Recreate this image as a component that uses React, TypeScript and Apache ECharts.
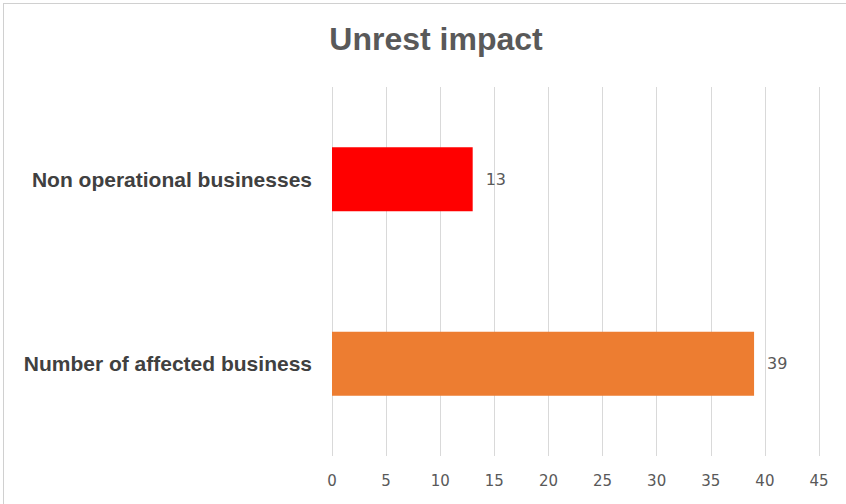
import React, { useEffect, useRef } from "react";
import * as echarts from "echarts";

const categories = ["Number of affected business", "Non operational businesses"];
const values = [39, 13];
const barColors = ["#ED7D31", "#FF0000"];
const titleText = "Unrest impact";

export default function App() {
  const ref = useRef<HTMLDivElement>(null);
  useEffect(() => {
    if (!ref.current) return;
    const chart = echarts.init(ref.current, null, { renderer: "svg" });
    chart.setOption({
      animation: false,
      backgroundColor: "#ffffff",
      title: {
        text: titleText,
        left: 431,
        textAlign: "center",
        top: 18,
        textStyle: {
          fontFamily: "Liberation Sans, Arial, sans-serif",
          fontSize: 32,
          fontWeight: "bold",
          color: "#595959",
        },
      },
      graphic: [
        { type: "line", shape: { x1: 3, y1: 3.5, x2: 846, y2: 3.5 }, style: { stroke: "#d0d0d0", lineWidth: 1 } },
        { type: "line", shape: { x1: 3.5, y1: 3, x2: 3.5, y2: 504 }, style: { stroke: "#d0d0d0", lineWidth: 1 } },
      ],
      grid: { left: 332, right: 27, top: 87, bottom: 48 },
      xAxis: {
        type: "value",
        min: 0,
        max: 45,
        interval: 5,
        axisLine: { show: false },
        axisTick: { show: false },
        splitLine: { show: true, lineStyle: { color: "#d9d9d9", width: 1 } },
        axisLabel: {
          margin: 17,
          fontFamily: "DejaVu Sans, sans-serif",
          fontSize: 15,
          color: "#595959",
        },
      },
      yAxis: {
        type: "category",
        data: categories,
        axisLine: { show: false },
        axisTick: { show: false },
        axisLabel: {
          margin: 20,
          fontFamily: "Liberation Sans, Arial, sans-serif",
          fontSize: 21,
          fontWeight: "bold",
          color: "#404040",
        },
      },
      series: [
        {
          type: "bar",
          data: values.map((v, i) => ({ value: v, itemStyle: { color: barColors[i] } })),
          barWidth: 64,
          label: {
            show: true,
            position: "right",
            distance: 13,
            fontFamily: "DejaVu Sans, sans-serif",
            fontSize: 16,
            color: "#595959",
          },
        },
      ],
    });
    return () => chart.dispose();
  }, []);
  return (
    <div
      ref={ref}
      style={{ position: "fixed", left: 0, top: 0, width: 846, height: 504 }}
    />
  );
}
